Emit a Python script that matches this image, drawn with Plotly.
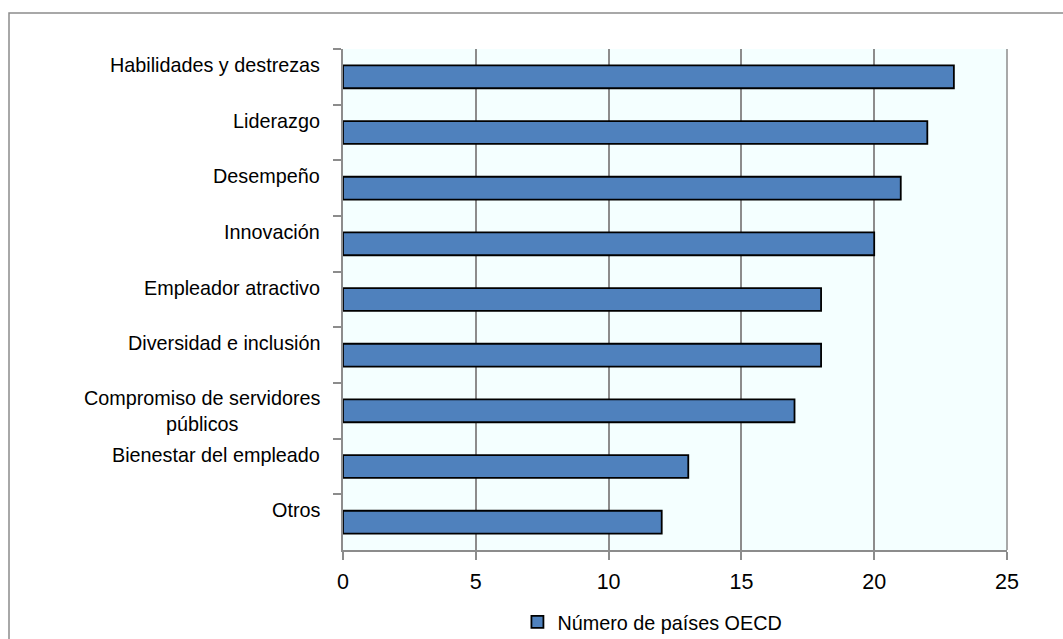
import plotly.graph_objects as go

categories = [
    "Habilidades y destrezas",
    "Liderazgo",
    "Desempeño",
    "Innovación",
    "Empleador atractivo",
    "Diversidad e inclusión",
    "Compromiso de servidores<br>públicos",
    "Bienestar del empleado",
    "Otros",
]
values = [23, 22, 21, 20, 18, 18, 17, 13, 12]
series_name = "Número de países OECD"
x_ticks = [0, 5, 10, 15, 20, 25]

W, H = 1063, 639
L, R, T, B = 343, 56, 49, 89
pw, ph = W - L - R, H - T - B

BLUE = "#4F81BD"
GRID = "#8C8C8C"
FONT = "Liberation Sans, Arial, sans-serif"

fig = go.Figure()
fig.add_trace(go.Bar(
    y=categories, x=values, orientation="h", name=series_name,
    marker=dict(color=BLUE, line=dict(color="#000000", width=1.8)),
    showlegend=True,
))

annotations = []
for c in categories:
    shift = 0 if "<br>" in c else 12
    annotations.append(dict(
        x=0, xref="paper", y=c, yref="y", text=c, showarrow=False,
        xanchor="right", yanchor="middle", xshift=-21, yshift=shift,
        align="center", font=dict(family=FONT, size=19.8, color="#000000"),
    ))

def px_x(p):
    return (p - L) / pw

def px_y(p):
    return (H - B - p) / ph

shapes = [dict(type="rect", xref="paper", yref="paper",
               x0=px_x(9), x1=px_x(1080), y0=px_y(660), y1=px_y(13),
               line=dict(color="#8C8C8C", width=1.5), fillcolor="rgba(0,0,0,0)", layer="below")]

fig.update_layout(
    width=W, height=H,
    margin=dict(l=L, r=R, t=T, b=B, pad=0, autoexpand=False),
    paper_bgcolor="#FFFFFF", plot_bgcolor="#F4FFFF",
    bargap=0.59,
    font=dict(family=FONT, size=19.8, color="#000000"),
    xaxis=dict(range=[0, 25], tickvals=x_ticks, showgrid=True, gridcolor=GRID, gridwidth=1.5,
               showline=True, linecolor=GRID, linewidth=1.5, mirror=False,
               ticks="outside", ticklen=8, tickcolor=GRID, tickwidth=1.5,
               ticklabelstandoff=3,
               tickfont=dict(family=FONT, size=21.5),
               zeroline=False, fixedrange=True, automargin=False),
    yaxis=dict(autorange="reversed", showticklabels=False, tickson="boundaries",
               ticks="outside", ticklen=8, tickcolor=GRID, tickwidth=1.5,
               showline=True, linecolor=GRID, linewidth=1.5, showgrid=False, fixedrange=True,
               automargin=False),
    legend=dict(orientation="h", x=0.466, xanchor="center", y=px_y(622), yanchor="middle",
                font=dict(family=FONT, size=19.8), bgcolor="rgba(0,0,0,0)",
                itemwidth=30, borderwidth=0),
    annotations=annotations,
    shapes=shapes,
)
fig.add_shape(type="line", xref="paper", yref="paper", x0=1, x1=1, y0=0, y1=1,
              line=dict(color=GRID, width=1.5))

fig.write_html("out.html")
